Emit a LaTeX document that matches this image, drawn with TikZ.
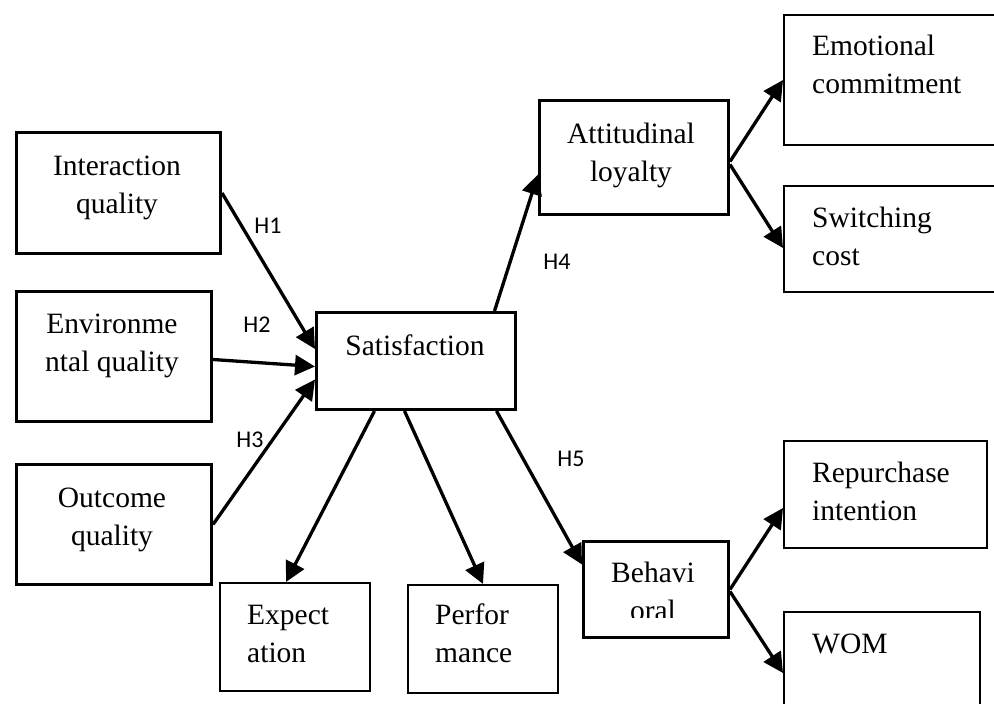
\documentclass[tikz,border=0pt]{standalone}
\usepackage{fontspec}
\setmainfont{Liberation Serif}
\newfontfamily\hfont{Carlito}
\usetikzlibrary{positioning,arrows.meta}

\begin{document}
\begin{tikzpicture}[x=1pt, y=-1pt,
    thickbox/.style={draw, line width=3pt, anchor=north west, inner sep=0pt},
    thinbox/.style={draw, line width=2pt, anchor=north west, inner sep=0pt},
    txt/.style={font=\fontsize{29.5}{38}\selectfont, inner sep=0pt, align=center},
    ltxt/.style={font=\fontsize{29.5}{38}\selectfont, inner sep=0pt, align=left},
    hyp/.style={font=\hfont\fontsize{24}{28}\selectfont, inner sep=0pt},
    arr/.style={-{Triangle[length=20pt,width=20pt]}, line width=3.3pt}
  ]
  \useasboundingbox (0,0) rectangle (994,704);
  \clip (0,0) rectangle (994,704);

  % antecedents (text anchored at baseline of last line)
  \node[thickbox, minimum width=204pt, minimum height=121pt] (inter) at (15,131) {};
  \node[thickbox, minimum width=195pt, minimum height=130pt] (env) at (15,290) {};
  \node[thickbox, minimum width=195pt, minimum height=120pt] (outc) at (15,463) {};
  \node[txt, anchor=base] (inter-t) at (117,213) {Interaction\\quality};
  \node[txt, anchor=base] (env-t) at (112,371) {Environme\\ntal quality};
  \node[txt, anchor=base] (outc-t) at (112,545) {Outcome\\quality};

  % satisfaction and its indicators
  \node[thickbox, minimum width=199pt, minimum height=97pt] (sat) at (315,311) {};
  \node[txt, anchor=base] (sat-t) at (415,355) {Satisfaction};
  \node[thinbox, minimum width=150pt, minimum height=108pt] (exp) at (219,582) {};
  \node[thinbox, minimum width=150pt, minimum height=108pt] (perf) at (407,584) {};
  \node[ltxt, anchor=base west] (exp-t) at (247,662) {Expect\\ation};
  \node[ltxt, anchor=base west] (perf-t) at (435,662) {Perfor\\mance};

  % loyalty
  \node[thickbox, minimum width=189pt, minimum height=114pt] (att) at (538,99) {};
  \node[txt, anchor=base] (att-t) at (631,181) {Attitudinal\\loyalty};
  \node[thickbox, minimum width=145pt, minimum height=96pt] (beh) at (582,540) {};
  \begin{scope}
    \clip (582,540) rectangle (727,617);
    \node[txt, anchor=base] (beh-t) at (653,620) {Behavi\\oral};
  \end{scope}

  % outcomes of loyalty
  \node[thinbox, minimum width=220pt, minimum height=130pt] (emo) at (783,14) {};
  \node[thinbox, minimum width=220pt, minimum height=106pt] (sw) at (783,185) {};
  \node[thinbox, minimum width=203pt, minimum height=107pt] (rep) at (783,440) {};
  \node[thinbox, minimum width=196pt, minimum height=129pt] (wom) at (783,611) {};
  \node[ltxt, anchor=base west] (emo-t) at (812,93) {Emotional\\commitment};
  \node[ltxt, anchor=base west] (sw-t) at (812,265) {Switching\\cost};
  \node[ltxt, anchor=base west] (rep-t) at (812,520) {Repurchase\\intention};
  \node[ltxt, anchor=base west] (wom-t) at (812,653) {WOM};

  % paths
  \draw[arr] (inter.east) -- ([yshift=12pt]sat.west);
  \draw[arr] ([yshift=-3pt]env.east) -- ([yshift=-5.5pt]sat.west);
  \draw[arr] (outc.east) -- ([yshift=-18.5pt]sat.west);
  \draw[arr] ([xshift=78.5pt]sat.north) -- ([yshift=-17pt]att.west);
  \draw[arr] ([xshift=80.5pt]sat.south) -- ([yshift=25pt]beh.west);
  \draw[arr] ([xshift=-41.5pt]sat.south) -- ([xshift=-9pt]exp.north);
  \draw[arr] ([xshift=-11.5pt]sat.south) -- (perf.north);
  \draw[arr] ([yshift=-4pt]att.east) -- (emo.west);
  \draw[arr] ([yshift=-7pt]att.east) -- ([yshift=-9pt]sw.west);
  \draw[arr] (beh.east) -- ([yshift=-13.5pt]rep.west);
  \draw[arr] ([yshift=-2pt]beh.east) -- ([yshift=3.5pt]wom.west);

  % hypothesis labels
  \node[hyp] (h1) at (268,226) {H1};
  \node[hyp] (h2) at (257,325) {H2};
  \node[hyp] (h3) at (250,440) {H3};
  \node[hyp] (h4) at (557,262) {H4};
  \node[hyp] (h5) at (571,459) {H5};
\end{tikzpicture}
\end{document}
